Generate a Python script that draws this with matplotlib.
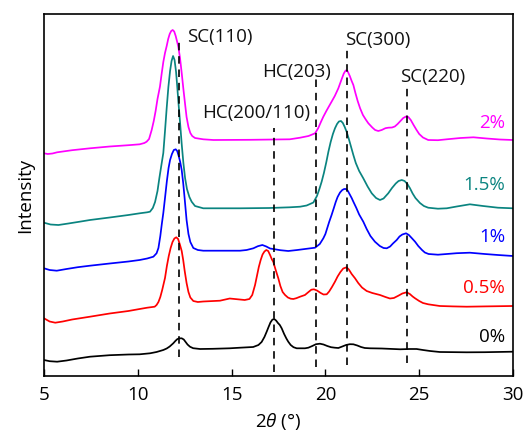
import matplotlib
matplotlib.use("Agg")
import matplotlib.pyplot as plt

plt.rcParams['font.family'] = ['Open Sans', 'DejaVu Sans']
plt.rcParams['mathtext.fontset'] = 'custom'
plt.rcParams['mathtext.it'] = 'Open Sans:italic'
plt.rcParams['mathtext.rm'] = 'Open Sans'

# ---- data (2theta in degrees, intensity in arbitrary offset units) ----
x_0 = [5.0, 5.3, 5.7, 6.2, 6.8, 7.45, 8.5, 9.5, 10.1, 10.65, 11.0, 11.18, 11.36, 11.54, 11.7, 11.89, 12.0, 12.1,
       12.2, 12.34, 12.45, 12.55, 12.65, 12.78, 12.95, 13.32, 14.0, 14.9, 15.45, 16.15, 16.43, 16.6, 16.75,
       16.87, 16.97, 17.07, 17.17, 17.27, 17.37, 17.47, 17.57, 17.67, 17.8, 17.92, 18.02, 18.15, 18.3, 18.47,
       18.91, 19.09, 19.3, 19.5, 19.71, 19.9, 20.1, 20.3, 20.5, 20.69, 20.9, 21.1, 21.3, 21.49, 21.7, 21.9,
       22.1, 22.38, 23.0, 23.98, 24.5, 24.86, 25.2, 25.58, 26.1, 27.53, 28.5, 30.0]
y_0 = [16, 14.8, 14.3, 15.5, 17.5, 19.3, 20.8, 21.5, 21.7, 22.7, 24, 25, 26, 27.5, 29.5, 32.7, 35, 36.8,
       37.6, 37.7, 36.5, 34, 31.5, 29.3, 27.8, 27, 27.2, 27.7, 28.3, 29, 31, 34, 39,
       44.3, 49, 53.5, 56.3, 57, 55.5, 53, 51, 47.7, 42, 37.5, 34.3, 31, 28.8, 27.7,
       27.7, 28.3, 30, 31.8, 32.3, 31.5, 30, 28.8, 28.3, 28, 29.5, 31, 31.8, 31.7, 30.5, 29,
       28, 27.7, 27.5, 26.7, 27, 27, 26, 25, 24, 23.7, 23.8, 24.3]

x_05 = [5.0, 5.3, 5.6, 6.0, 6.5, 7.45, 8.5, 9.5, 10.1, 10.5, 10.9, 11.0, 11.1, 11.2, 11.3, 11.45, 11.55, 11.65,
        11.75, 11.85, 11.95, 12.05, 12.15, 12.25, 12.34, 12.42, 12.5, 12.6, 12.7, 12.8, 12.96, 13.2, 13.49,
        14.38, 14.9, 15.7, 15.95, 16.1, 16.25, 16.35, 16.45, 16.55, 16.65, 16.75, 16.85, 16.95, 17.05, 17.15,
        17.22, 17.35, 17.49, 17.6, 17.72, 17.85, 18.0, 18.15, 18.29, 18.45, 18.65, 18.91, 19.1, 19.25, 19.39,
        19.55, 19.75, 19.9, 20.07, 20.2, 20.35, 20.51, 20.65, 20.8, 20.95, 21.13, 21.25, 21.4, 21.58, 21.75,
        21.95, 22.2, 22.5, 22.91, 23.2, 23.44, 23.65, 23.89, 24.1, 24.33, 24.5, 24.65, 24.78, 25.0, 25.2,
        25.48, 26.1, 26.8, 27.53, 28.5, 30.0]
y_05 = [57.7, 54.5, 53.3, 54.5, 56.5, 59.3, 62.5, 65, 67, 68.3, 69.3, 71, 74, 79, 86, 98, 110, 120,
        128, 134, 137.5, 138.7, 137, 131, 125, 116, 105, 93, 84, 78.5, 75, 74, 74.5,
        75.3, 77.5, 76, 77, 81, 91, 100, 109, 116, 121.5, 124.5, 126, 125, 121, 116.5,
        114.3, 106, 97.7, 90, 84, 81, 78.5, 77.3, 77, 77.8, 79.3, 81, 84, 86.3, 86.7,
        85.5, 83, 81.5, 81.7, 84.5, 89, 94.3, 99.5, 104, 107.5, 108.7, 106.5, 102, 97.7, 93,
        88.5, 85, 83, 81, 79, 77.5, 78, 80.3, 82.5, 83.7, 82, 79.5, 77.7, 75, 73,
        71.7, 70, 69.6, 69.3, 69.6, 70]

x_1 = [5.0, 5.3, 5.68, 6.2, 6.8, 7.45, 8.5, 9.5, 10.1, 10.5, 10.83, 11.0, 11.1, 11.2, 11.28, 11.36, 11.45,
       11.55, 11.64, 11.72, 11.82, 11.92, 12.02, 12.1, 12.18, 12.26, 12.34, 12.42, 12.5, 12.6, 12.7, 12.8,
       12.96, 13.2, 13.49, 14.5, 15.45, 15.8, 16.16, 16.4, 16.64, 16.85, 17.05, 17.22, 17.6, 18.02, 18.5,
       18.91, 19.45, 19.7, 19.89, 20.0, 20.1, 20.2, 20.33, 20.45, 20.55, 20.65, 20.78, 20.9, 21.0, 21.1,
       21.2, 21.3, 21.4, 21.49, 21.65, 21.8, 22.02, 22.2, 22.4, 22.64, 22.9, 23.1, 23.27, 23.45, 23.6,
       23.8, 23.95, 24.1, 24.3, 24.45, 24.6, 24.78, 24.95, 25.15, 25.3, 25.5, 26.0, 26.47, 27.0, 27.7,
       28.5, 29.2, 30.0]
y_1 = [107.7, 106, 105.3, 107, 108.8, 110.3, 112.5, 114.5, 116, 117.5, 119.3, 122.7, 128, 140, 152, 163, 178,
       195, 208, 216, 222, 226, 226.7, 225, 220, 214, 206, 193, 177, 156, 142, 134,
       128, 126, 125.3, 125.3, 125.3, 126, 127.7, 129.8, 131, 129.5, 127.5, 127, 125.8, 125, 126,
       127, 128.3, 132, 137.7, 142, 148, 154, 161, 168, 174, 179, 183.5, 186, 187, 187,
       185, 181.5, 178, 174.3, 168, 161.5, 154.3, 147, 140, 134.3, 130, 128, 127.7, 129.5, 132.5,
       136, 139.5, 141.5, 142.7, 141, 138, 134.3, 130, 126, 123.5, 122, 121.3, 122, 122.8, 123.3,
       122, 121, 120]

x_15 = [5.0, 5.35, 5.77, 6.3, 6.9, 7.45, 8.5, 9.5, 10.1, 10.5, 10.65, 10.8, 10.92, 11.05, 11.15, 11.25, 11.36,
        11.45, 11.54, 11.63, 11.72, 11.8, 11.88, 11.96, 12.04, 12.1, 12.16, 12.25, 12.34, 12.43, 12.52,
        12.62, 12.75, 12.87, 13.05, 13.49, 15.45, 17.0, 18.1, 18.65, 19.0, 19.36, 19.55, 19.68, 19.8, 19.92,
        20.05, 20.16, 20.28, 20.4, 20.51, 20.62, 20.72, 20.83, 20.93, 21.03, 21.13, 21.25, 21.37, 21.49,
        21.62, 21.8, 22.02, 22.25, 22.47, 22.7, 22.91, 23.1, 23.35, 23.55, 23.75, 23.9, 24.07, 24.22, 24.37,
        24.51, 24.65, 24.8, 25.04, 25.25, 25.48, 26.0, 26.47, 27.0, 27.7, 28.4, 29.2, 30.0]
y_15 = [153.3, 151.5, 151, 152.5, 154.3, 156, 158.5, 161, 162.7, 163.7, 164.3, 168, 174, 185, 198, 210, 223,
        245, 268, 289, 305, 315, 320, 316, 304, 290, 275, 254, 232, 213, 198,
        187, 179, 174.3, 170, 167.7, 167.7, 168, 168.7, 169.3, 170.5, 173.5, 180, 187, 194.3, 203,
        214, 224.3, 234, 242, 247.7, 252, 254.5, 255, 253, 249, 244.3, 237, 229, 221,
        213, 205, 197.7, 189.5, 182.7, 178, 176, 177.5, 182.7, 188, 192.5, 195, 196, 195, 192,
        187.7, 182.5, 178, 173, 170, 168.3, 167.3, 167.7, 169.5, 171.7, 170, 168.3, 167.7]

x_2 = [5.0, 5.2, 5.45, 5.7, 6.5, 7.45, 8.5, 9.5, 10.1, 10.35, 10.47, 10.6, 10.74, 10.85, 10.95, 11.05, 11.18,
       11.27, 11.36, 11.45, 11.54, 11.62, 11.7, 11.78, 11.86, 11.94, 12.02, 12.1, 12.16, 12.25, 12.34, 12.43,
       12.52, 12.6, 12.7, 12.8, 12.9, 13.05, 13.49, 14.03, 16.0, 18.1, 18.65, 19.1, 19.45, 19.62, 19.76,
       19.89, 20.05, 20.2, 20.33, 20.5, 20.69, 20.85, 20.98, 21.08, 21.18, 21.3, 21.4, 21.49, 21.6, 21.72,
       21.85, 22.0, 22.15, 22.29, 22.5, 22.65, 22.82, 23.0, 23.2, 23.35, 23.55, 23.7, 23.85, 24.0, 24.15,
       24.3, 24.42, 24.55, 24.7, 24.86, 25.0, 25.2, 25.48, 26.0, 26.47, 27.2, 27.89, 28.6, 29.3, 30.0]
y_2 = [222.7, 222, 222.5, 223.7, 225.8, 227.7, 229.5, 230.8, 231.7, 233, 234.3, 237, 246, 255, 265, 277, 289.3,
       302, 314, 323, 330, 337, 342, 345, 346, 344.5, 340, 334, 329.3, 318, 303, 287,
       272, 259, 249, 243, 240, 238, 236.7, 236, 236.2, 236.7, 238.3, 240, 242.7, 248, 254,
       259.3, 265, 270, 274.3, 280, 287.7, 296, 302.5, 305.5, 305, 300, 295, 291, 283, 275,
       267.7, 261, 256.5, 252.7, 248.5, 246, 245, 246, 247.8, 248.3, 248.5, 249.5, 252, 255, 258,
       259.5, 259, 256, 251, 246, 242, 238.5, 236, 235.8, 236.7, 238, 238.7, 237.5, 236.5, 236]

series_x = [x_0, x_05, x_1, x_15, x_2]
series_y = [y_0, y_05, y_1, y_15, y_2]
series_labels = ['0%', '0.5%', '1%', '1.5%', '2%']
series_colors = ['#000000', '#ff0000', '#0000ff', '#0a8480', '#ff00ff']
label_y = [39, 88, 139, 191, 253]

# reference lines: position, bottom, top; label text and its position
ref_x = [12.19, 17.24, 19.48, 21.13, 24.35]
ref_ymin = [19, 4, 9, 11, 13]
ref_ymax = [336, 248, 299, 326, 289]
ref_labels = ['SC(110)', 'HC(200/110)', 'HC(203)', 'SC(300)', 'SC(220)']
ref_label_x = [12.62, 13.42, 16.62, 21.04, 23.98]
ref_label_y = [339, 263, 304, 336, 299]

x_ticks = [5, 10, 15, 20, 25, 30]

fig = plt.figure(figsize=(5.28, 4.32), dpi=100)
ax = fig.add_axes([44/528, 1 - 376/432, (513-44)/528, (376-14)/432])

for xs, ys, c in zip(series_x, series_y, series_colors):
    ax.plot(xs, ys, color=c, lw=1.25, solid_joinstyle='round', solid_capstyle='round')

for xr, y0, y1 in zip(ref_x, ref_ymin, ref_ymax):
    ax.plot([xr, xr], [y0, y1], color='black', lw=1.2, ls=(0, (4.5, 3.5)))

fs = 13.5
for t, lx, ly in zip(ref_labels, ref_label_x, ref_label_y):
    ax.text(lx, ly, t, ha='left', va='center', fontsize=fs, color='#111111')

for t, c, ly in zip(series_labels, series_colors, label_y):
    ax.text(29.57, ly, t, ha='right', va='center', fontsize=fs, color=c)

ax.set_xlim(5, 30)
ax.set_ylim(0, 362)
ax.set_xticks(x_ticks)
ax.set_yticks([])
ax.tick_params(axis='x', direction='in', length=5, width=1, labelsize=fs, pad=7)
for s in ax.spines.values():
    s.set_linewidth(1.2)
ax.set_xlabel(r'2$\theta$ (°)', fontsize=fs, labelpad=5)
ax.set_ylabel('Intensity', fontsize=fs, labelpad=7)

fig.savefig('out.png', dpi=100)
